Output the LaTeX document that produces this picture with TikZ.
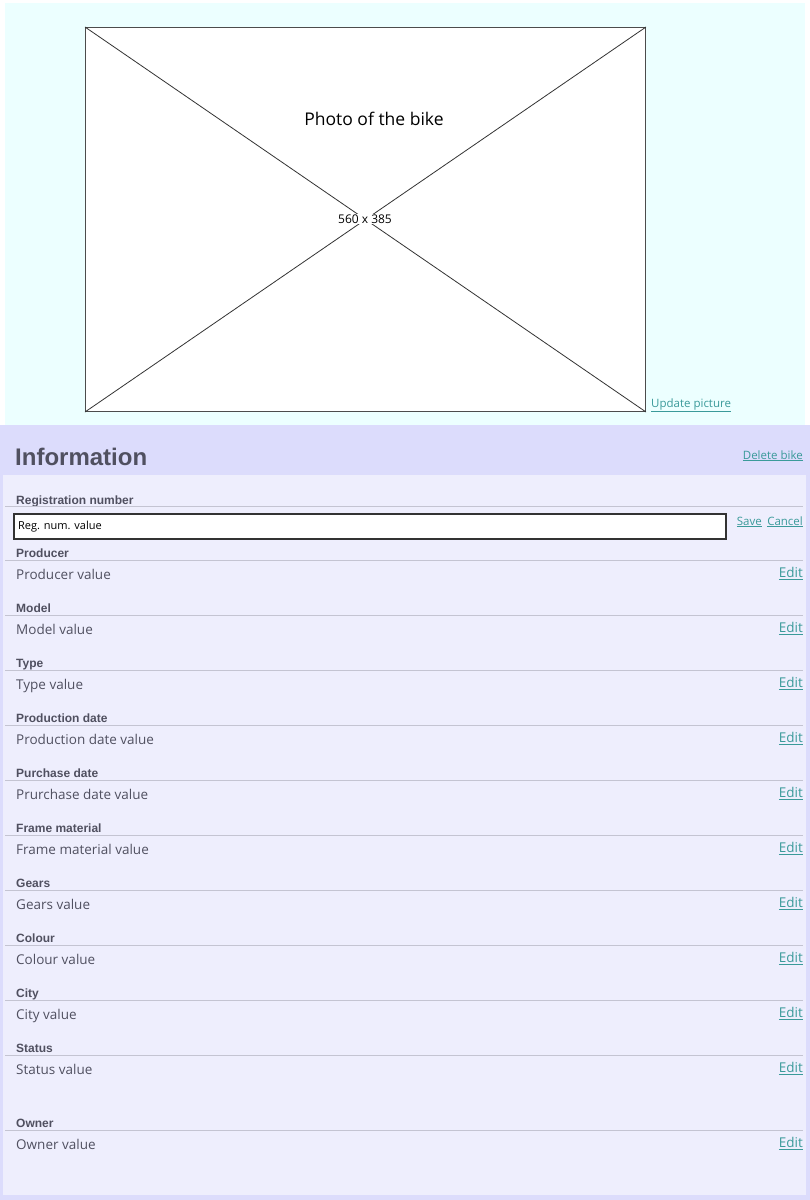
\documentclass[tikz,border=0pt]{standalone}
\usepackage{fontspec}
\setmainfont{Open Sans}
\newfontfamily\arialf{Liberation Sans}
\begin{document}
\begin{tikzpicture}[x=1pt,y=-1pt]
\definecolor{cyanbg}{HTML}{ECFFFF}
\definecolor{lavhead}{HTML}{DCDCFC}
\definecolor{lavpanel}{HTML}{EEEEFD}
\definecolor{txtgray}{HTML}{505060}
\definecolor{linkteal}{HTML}{3A9A9A}
\definecolor{sepgray}{HTML}{C4C4D2}
\tikzset{
  lbl/.style={anchor=base west,font=\arialf\bfseries\fontsize{12}{14}\selectfont,text=txtgray,inner sep=0pt},
  val/.style={anchor=base west,font=\fontsize{13.5}{16}\selectfont,text=txtgray,inner sep=0pt},
  lnk/.style={anchor=base east,font=\fontsize{11.5}{14}\selectfont,text=linkteal,inner sep=0pt},
  editlnk/.style={lnk,font=\fontsize{13.5}{16}\selectfont},
  sep/.style={draw=sepgray,line width=1.3pt},
}
\newcommand{\ul}[1]{\underline{#1}}
\useasboundingbox (0,0) rectangle (810,1200);
\fill[white] (0,0) rectangle (810,1200);
% top section
\fill[cyanbg] (5,3) rectangle (805,425);
\node[draw=black!70,fill=white,line width=1pt,minimum width=560pt,minimum height=384pt,inner sep=0pt,anchor=north west] (photo) at (85,27) {};
\draw[black!80,line width=0.8pt] (photo.north west) -- (photo.south east);
\draw[black!80,line width=0.8pt] (photo.north east) -- (photo.south west);
\node[font=\fontsize{17.5}{20}\selectfont,inner sep=0pt] (phototitle) at (374,119) {Photo of the bike};
\node[font=\fontsize{12}{14}\selectfont,fill=white,inner sep=1pt] (photosize) at (365,219) {560 x 385};
\node[lnk,anchor=base west] (update) at (651,407) {\ul{Update picture}};
% lower section
\fill[lavhead] (0,425) rectangle (810,1200);
\fill[lavpanel] (3,475) rectangle (806,1195);
\node[anchor=base west,font=\arialf\bfseries\fontsize{24}{28}\selectfont,text=txtgray,inner sep=0pt] (info) at (15,465) {Information};
\node[lnk] (delete) at (803,459) {\ul{Delete bike}};
% registration number
\node[lbl] (l0) at (16,504) {Registration number};
\draw[sep] (5,506.5) -- (803,506.5);
\node[draw=black!80,fill=white,line width=1.5pt,minimum width=712pt,minimum height=25pt,inner sep=0pt,anchor=north west] (regbox) at (13,513) {};
\node[anchor=base west,font=\fontsize{11}{13}\selectfont,inner sep=0pt] (regval) at (18,529) {Reg. num. value};
\node[lnk] (cancel) at (803,525) {\ul{Cancel}};
\node[lnk] (save) at (762,525) {\ul{Save}};
% fields
\foreach \name/\lab/\valtxt/\y in {
  p1/Producer/Producer value/557,
  p2/Model/Model value/612,
  p3/Type/Type value/667,
  p4/Production date/Production date value/722,
  p5/Purchase date/Prurchase date value/777,
  p6/Frame material/Frame material value/832,
  p7/Gears/Gears value/887,
  p8/Colour/Colour value/942,
  p9/City/City value/997,
  p10/Status/Status value/1052,
  p11/Owner/Owner value/1127}{
  \node[lbl] (\name l) at (16,\y) {\lab};
  \draw[sep] (5,\y+3.5) -- (803,\y+3.5);
  \node[val] (\name v) at (16,\y+22.5) {\valtxt};
  \node[editlnk] (\name e) at (803,\y+20.5) {\ul{Edit}};
}
\end{tikzpicture}
\end{document}
